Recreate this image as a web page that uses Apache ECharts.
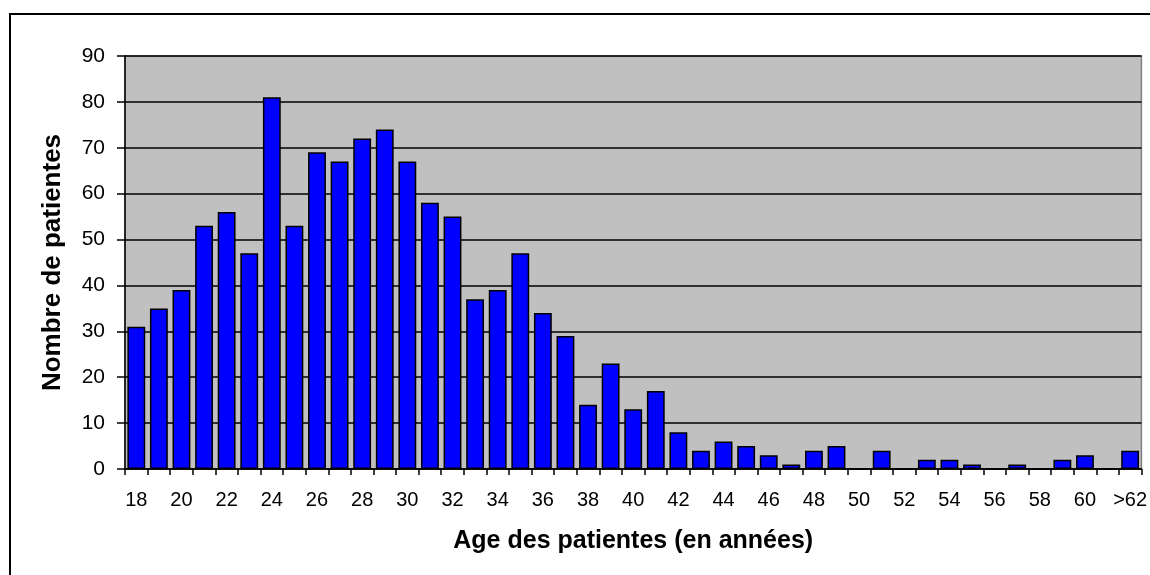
<!DOCTYPE html>
<html>
<head>
<meta charset="utf-8">
<script src="https://cdn.jsdelivr.net/npm/echarts@6/dist/echarts.min.js"></script>
<style>
  html, body { margin: 0; padding: 0; background: #fff; }
  #main { width: 1150px; height: 575px; }
</style>
</head>
<body>
<div id="main"></div>
<script>
// tranches d'age (une par annee, la derniere regroupe les plus de 62 ans)
var ages = ['18','19','20','21','22','23','24','25','26','27','28','29','30','31','32','33',
    '34','35','36','37','38','39','40','41','42','43','44','45','46','47','48','49','50',
    '51','52','53','54','55','56','57','58','59','60','61','>62'];
// nombre de patientes par age
var patientes = [31, 35, 39, 53, 56, 47, 81, 53, 69, 67, 72, 74, 67, 58, 55, 37,
    39, 47, 34, 29, 14, 23, 13, 17, 8, 4, 6, 5, 3, 1, 4, 5, 0,
    4, 0, 2, 2, 1, 0, 1, 0, 2, 3, 0, 4];
var yTicks = [0, 90, 10]; // min, max, pas

var chart = echarts.init(document.getElementById('main'));

var police = 'Liberation Sans, Arial, sans-serif';

var option = {
    animation: false,
    backgroundColor: '#fff',
    // cadre exterieur du graphique
    graphic: [{
        type: 'rect',
        shape: { x: 10, y: 14, width: 1300, height: 700 },
        style: { fill: 'none', stroke: '#000', lineWidth: 2 }
    }],
    grid: {
        left: 125,
        top: 56,
        right: 0,
        bottom: 106,
        show: true,
        backgroundColor: '#c0c0c0',
        borderColor: '#808080',
        borderWidth: 1.5
    },
    xAxis: {
        type: 'category',
        data: ages,
        name: 'Age des patientes (en années)',
        nameLocation: 'middle',
        nameGap: 60,
        nameTextStyle: { fontFamily: police, fontSize: 25, fontWeight: 'bold', color: '#000' },
        axisLine: { lineStyle: { color: '#000', width: 1.5 } },
        axisTick: { show: true, interval: 0, length: 6, lineStyle: { color: '#000', width: 1.5 } },
        axisLabel: { interval: 1, margin: 21, fontFamily: police, fontSize: 20, color: '#000' }
    },
    yAxis: {
        type: 'value',
        min: yTicks[0],
        max: yTicks[1],
        interval: yTicks[2],
        name: 'Nombre de patientes',
        nameLocation: 'middle',
        nameGap: 59,
        nameTextStyle: { fontFamily: police, fontSize: 26, fontWeight: 'bold', color: '#000' },
        axisLine: { show: true, lineStyle: { color: '#000', width: 1.5 } },
        axisTick: { show: true, length: 8, lineStyle: { color: '#000', width: 1.5 } },
        axisLabel: { margin: 20, fontFamily: police, fontSize: 21, color: '#000' },
        splitLine: { show: true, lineStyle: { color: '#000', width: 1.5 } }
    },
    series: [{
        type: 'bar',
        data: patientes,
        barCategoryGap: '21%',
        itemStyle: { color: '#0000ff', borderColor: '#000', borderWidth: 1.5 }
    }]
};

chart.setOption(option);
</script>
</body>
</html>
